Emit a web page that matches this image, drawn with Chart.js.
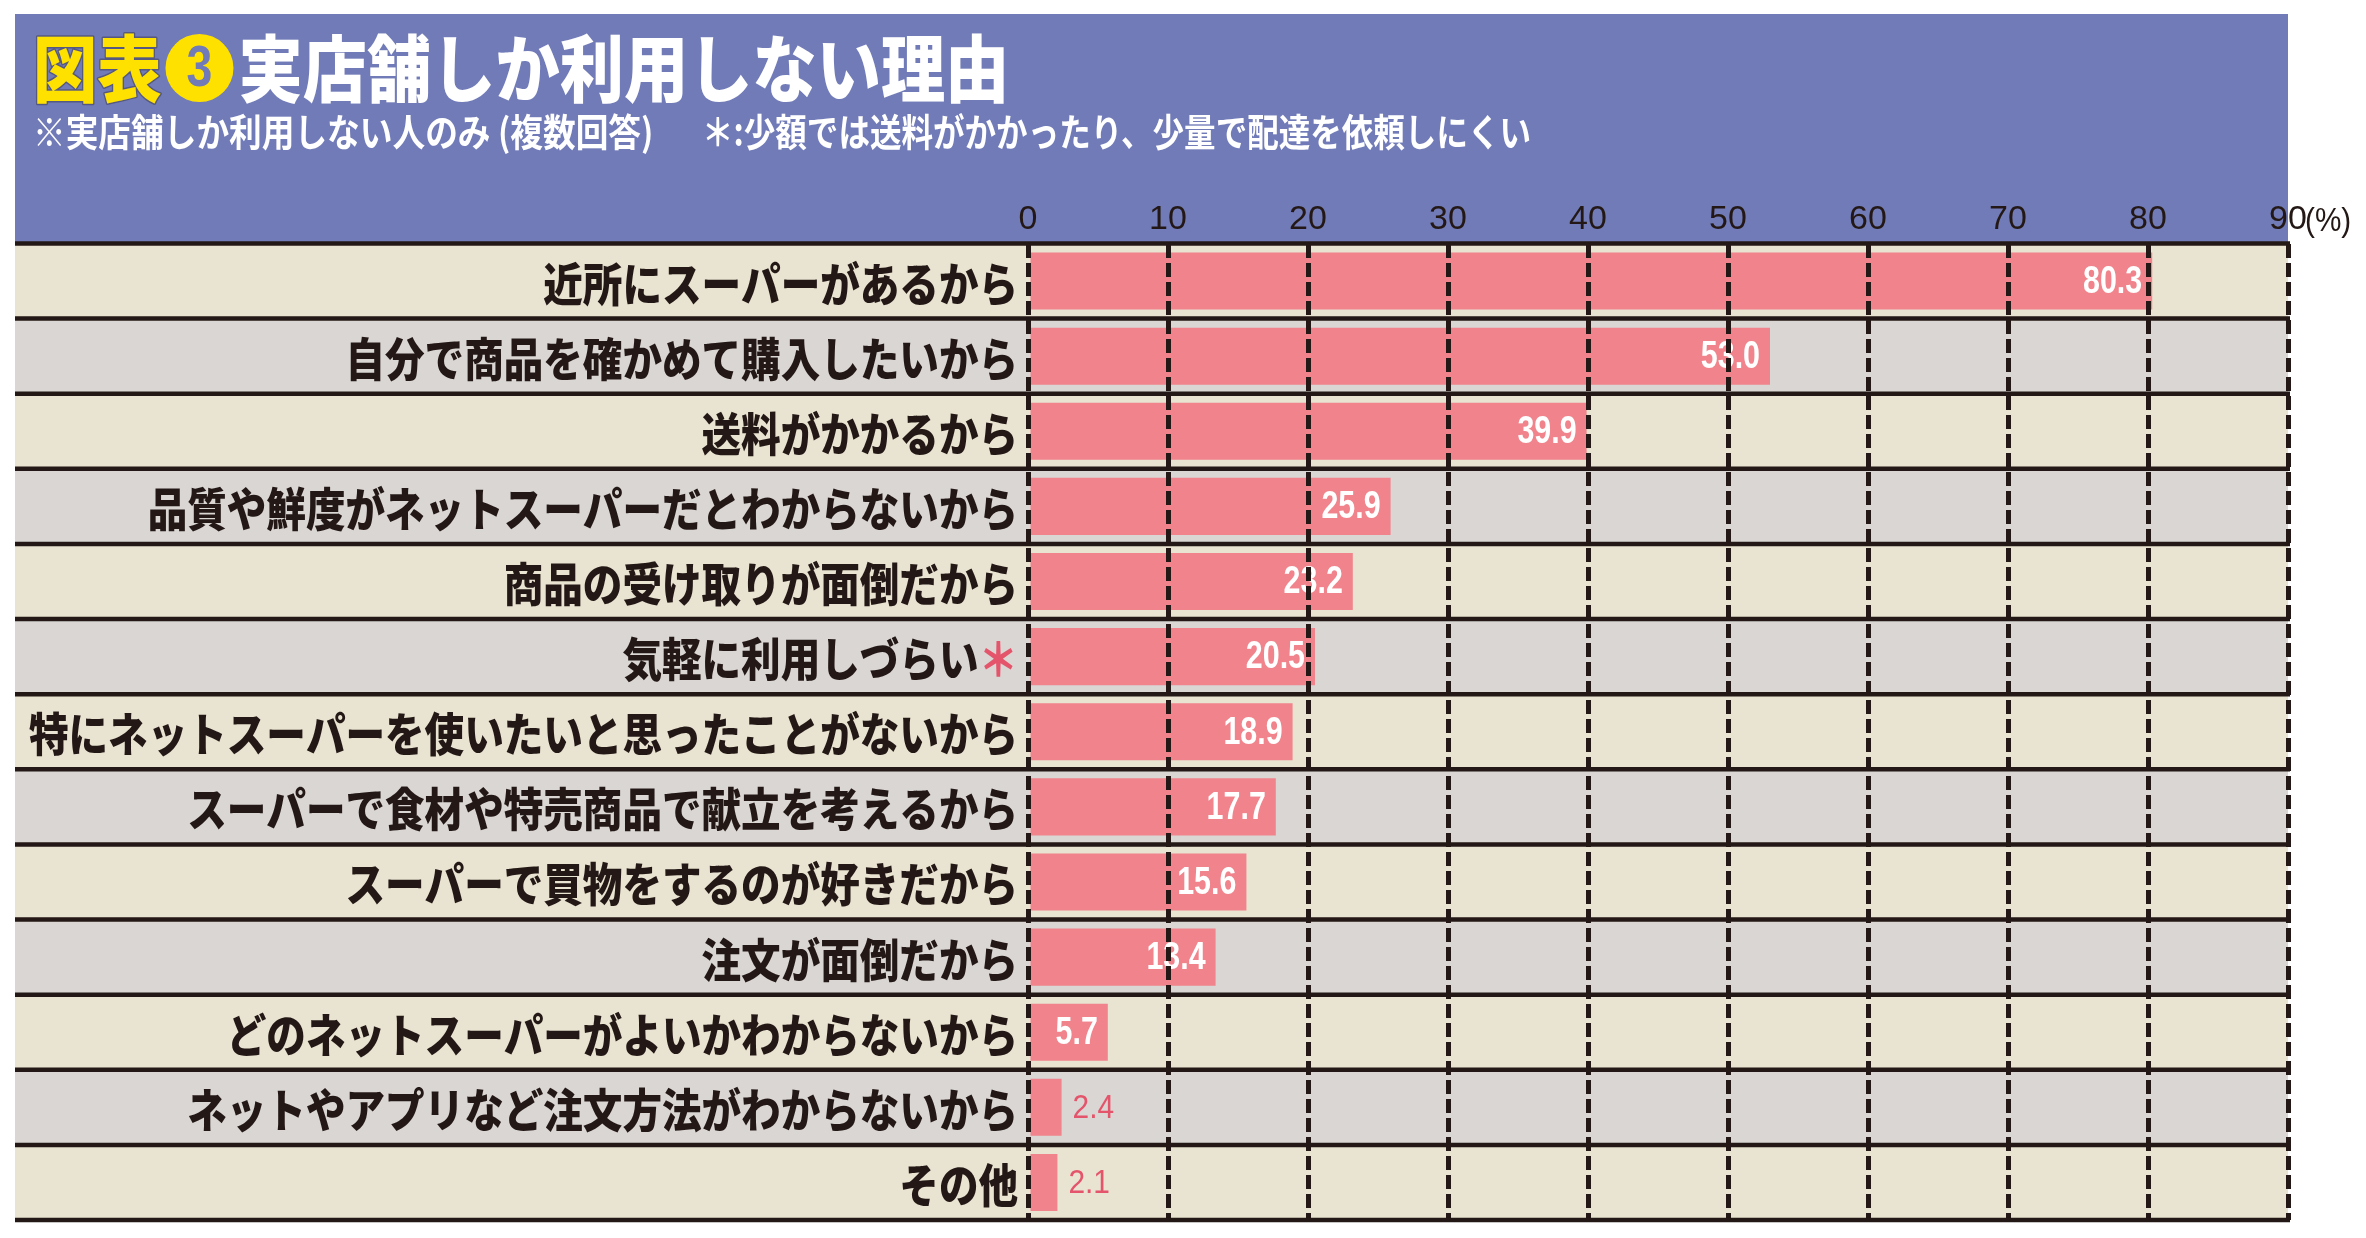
<!DOCTYPE html>
<html>
<head>
<meta charset="utf-8">
<script src="https://cdn.jsdelivr.net/npm/chart.js@4.4.1/dist/chart.umd.min.js"></script>
<style>
  html, body { margin: 0; padding: 0; background: #fff; }
  #wrap { width: 2366px; height: 1238px; position: relative; }
</style>
</head>
<body>
<div id="wrap"><canvas id="myChart"></canvas></div>
<script>
const categories = [
  '近所にスーパーがあるから',
  '自分で商品を確かめて購入したいから',
  '送料がかかるから',
  '品質や鮮度がネットスーパーだとわからないから',
  '商品の受け取りが面倒だから',
  '気軽に利用しづらい＊',
  '特にネットスーパーを使いたいと思ったことがないから',
  'スーパーで食材や特売商品で献立を考えるから',
  'スーパーで買物をするのが好きだから',
  '注文が面倒だから',
  'どのネットスーパーがよいかわからないから',
  'ネットやアプリなど注文方法がわからないから',
  'その他'
];
const values = [80.3, 53.0, 39.9, 25.9, 23.2, 20.5, 18.9, 17.7, 15.6, 13.4, 5.7, 2.4, 2.1];
const xMin = 0, xMax = 90, xStep = 10;

const titleParts = ['図表', '3', '実店舗しか利用しない理由'];
const subtitleLeft = '※実店舗しか利用しない人のみ (複数回答)';
const subtitleRight = '＊:少額では送料がかかったり、少量で配達を依頼しにくい';
const unitLabel = '(%)';

const BLUE = '#717bb7', YELLOW = '#ffe100', INK = '#231815';
const PINK = '#f0838b', PINK_TEXT = '#e4556b';
const ROW_A = '#e9e3d1', ROW_B = '#d9d6d4';
const JP = '"Noto Sans CJK JP", "Noto Sans", sans-serif';
const NUM = '"Liberation Sans", Arial, sans-serif';
const PANEL_LEFT = 15, PANEL_TOP = 14;

const panelPlugin = {
  id: 'panel',
  beforeDraw(chart) {
    const ctx = chart.ctx, area = chart.chartArea;
    ctx.save();
    ctx.fillStyle = BLUE;
    ctx.fillRect(PANEL_LEFT, PANEL_TOP, area.right - PANEL_LEFT, area.top - PANEL_TOP);

    // title
    const sx = 0.88, ty = 68;
    ctx.font = '900 73px ' + JP;
    ctx.textBaseline = 'middle';
    ctx.textAlign = 'left';
    let x = 33;
    ctx.save();
    ctx.translate(x, ty);
    ctx.scale(sx, 1);
    ctx.lineJoin = 'round';
    ctx.lineWidth = 3;
    ctx.strokeStyle = '#55587f';
    ctx.strokeText(titleParts[0], 0, 0);
    ctx.fillStyle = YELLOW;
    ctx.fillText(titleParts[0], 0, 0);
    const w0 = ctx.measureText(titleParts[0]).width * sx;
    ctx.restore();
    x += w0 + 4;
    const r = 34;
    ctx.beginPath();
    ctx.arc(x + r, ty, r, 0, Math.PI * 2);
    ctx.fillStyle = YELLOW;
    ctx.fill();
    ctx.save();
    ctx.translate(x + r, ty + 2);
    ctx.scale(0.8, 1);
    ctx.font = 'bold 58px ' + NUM;
    ctx.textAlign = 'center';
    ctx.fillStyle = BLUE;
    ctx.fillText(titleParts[1], 0, 0);
    ctx.restore();
    x += 2 * r + 5;
    ctx.save();
    ctx.translate(x, ty);
    ctx.scale(sx, 1);
    ctx.fillStyle = '#fff';
    ctx.fillText(titleParts[2], 0, 0);
    ctx.restore();

    // subtitle
    ctx.font = 'bold 38px ' + JP;
    ctx.fillStyle = '#fff';
    [[subtitleLeft, 33, 0.86], [subtitleRight, 702, 0.83]].forEach(([t, px, s]) => {
      ctx.save();
      ctx.translate(px, 132);
      ctx.scale(s, 1);
      ctx.fillText(t, 0, 0);
      ctx.restore();
    });
    ctx.restore();
  },
  beforeDatasetsDraw(chart) {
    const ctx = chart.ctx, area = chart.chartArea;
    const y = chart.scales.y;
    const h = (area.bottom - area.top) / categories.length;
    ctx.save();
    categories.forEach((c, i) => {
      const cy = y.getPixelForValue(i);
      ctx.fillStyle = i % 2 === 0 ? ROW_A : ROW_B;
      ctx.fillRect(PANEL_LEFT, cy - h / 2, area.right - PANEL_LEFT, h);
    });
    ctx.strokeStyle = INK;
    ctx.lineWidth = 4.5;
    for (let k = 0; k <= categories.length; k++) {
      const ly = area.top + k * h;
      ctx.beginPath();
      ctx.moveTo(PANEL_LEFT, ly);
      ctx.lineTo(area.right + 2, ly);
      ctx.stroke();
    }

    // category labels
    ctx.font = '900 46px ' + JP;
    ctx.textBaseline = 'middle';
    ctx.textAlign = 'right';
    categories.forEach((c, i) => {
      const cy = y.getPixelForValue(i) + 2;
      ctx.save();
      ctx.translate(area.left - 10, cy);
      ctx.scale(0.86, 1);
      let text = c, xr = 0;
      if (c.endsWith('＊')) {
        ctx.fillStyle = PINK_TEXT;
        ctx.fillText('＊', 0, 0);
        xr = -ctx.measureText('＊').width;
        text = c.slice(0, -1);
      }
      ctx.fillStyle = INK;
      ctx.fillText(text, xr, 0);
      ctx.restore();
    });
    ctx.restore();
  },
  afterDatasetsDraw(chart) {
    const ctx = chart.ctx;
    const meta = chart.getDatasetMeta(0);
    ctx.save();
    ctx.textBaseline = 'middle';
    meta.data.forEach((bar, i) => {
      const v = values[i];
      ctx.save();
      if (v >= 5) {
        ctx.translate(bar.x - 10, bar.y + 1);
        ctx.scale(0.78, 1);
        ctx.font = 'bold 39px ' + NUM;
        ctx.fillStyle = '#fff';
        ctx.textAlign = 'right';
      } else {
        ctx.translate(bar.x + 11, bar.y + 1);
        ctx.scale(0.88, 1);
        ctx.font = '34px ' + NUM;
        ctx.fillStyle = PINK_TEXT;
        ctx.textAlign = 'left';
      }
      ctx.fillText(v.toFixed(1), 0, 0);
      ctx.restore();
    });
    ctx.restore();
  },
  afterDraw(chart) {
    const ctx = chart.ctx, x = chart.scales.x;
    ctx.save();
    ctx.translate(x.getPixelForValue(xMax) + 17, 222);
    ctx.scale(0.9, 1);
    ctx.font = '33px ' + NUM;
    ctx.fillStyle = INK;
    ctx.textBaseline = 'middle';
    ctx.textAlign = 'left';
    ctx.fillText(unitLabel, 0, 0);
    ctx.restore();
  }
};

const data = {
  labels: categories,
  datasets: [{
    data: values,
    backgroundColor: PINK,
    borderWidth: 0,
    barPercentage: 0.76,
    categoryPercentage: 1
  }]
};

const config = {
  type: 'bar',
  data: data,
  options: {
    indexAxis: 'y',
    responsive: true,
    maintainAspectRatio: false,
    devicePixelRatio: 1,
    animation: false,
    layout: { padding: { left: 1028, right: 78, top: 199.5, bottom: 18 } },
    scales: {
      x: {
        position: 'top',
        min: xMin,
        max: xMax,
        afterFit(scale) { scale.height = 44; },
        ticks: {
          stepSize: xStep,
          color: INK,
          padding: 3,
          font: { family: NUM, size: 34 }
        },
        grid: { color: INK, lineWidth: 5, drawTicks: false, z: 1 },
        border: { display: false, dash: [14, 5] }
      },
      y: { display: false }
    },
    plugins: {
      legend: { display: false },
      tooltip: { enabled: false }
    }
  },
  plugins: [panelPlugin]
};

const myChart = new Chart(document.getElementById('myChart'), config);
</script>
</body>
</html>
